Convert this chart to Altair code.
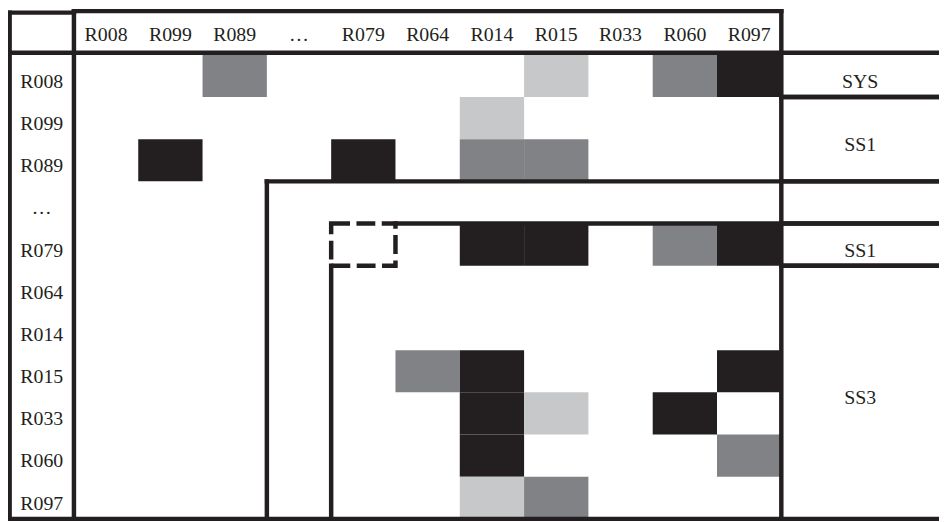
import altair as alt
import pandas as pd

# ---------------- data ----------------
rows = ["R008", "R099", "R089", "…", "R079", "R064", "R014", "R015", "R033", "R060", "R097"]
cols = ["R008", "R099", "R089", "…", "R079", "R064", "R014", "R015", "R033", "R060", "R097"]

cell_rows = ["R008", "R008", "R008", "R008",
             "R099",
             "R089", "R089", "R089", "R089",
             "R079", "R079", "R079", "R079",
             "R015", "R015", "R015",
             "R033", "R033", "R033",
             "R060", "R060",
             "R097", "R097"]
cell_cols = ["R089", "R015", "R060", "R097",
             "R014",
             "R099", "R079", "R014", "R015",
             "R014", "R015", "R060", "R097",
             "R064", "R014", "R097",
             "R014", "R015", "R060",
             "R014", "R097",
             "R014", "R015"]
cell_levels = ["medium", "weak", "medium", "strong",
               "weak",
               "strong", "strong", "medium", "medium",
               "strong", "strong", "medium", "strong",
               "medium", "strong", "strong",
               "strong", "weak", "strong",
               "strong", "medium",
               "weak", "medium"]
level_names = ["strong", "medium", "weak"]
level_colors = ["#231f20", "#808285", "#c7c8ca"]

group_labels = ["SYS", "SS1", "SS1", "SS3"]
group_first = ["R008", "R099", "R079", "R064"]
group_last = ["R008", "R089", "R079", "R097"]

nested_from = ["…", "R079"]     # nested blocks opening at these elements
dashed_cells = ["R079"]         # highlighted diagonal cell

# ---------------- tables ----------------
n = len(rows)
X_MIN, X_MAX = -1.0253, 13.452
Y_MIN, Y_MAX = -1.0576, 11.022
INK = "#231f20"
FONT = "Liberation Serif"

cells = pd.DataFrame({"r": cell_rows, "c": cell_cols, "level": cell_levels})
cells["ri"] = cells["r"].map(rows.index)
cells["ci"] = cells["c"].map(cols.index)
cells["ri2"] = cells["ri"] + 1
cells["ci2"] = cells["ci"] + 1

row_lab = pd.DataFrame({"label": rows, "x": -0.5, "y": [i + 0.5 for i in range(n)]})
col_lab = pd.DataFrame({"label": cols, "x": [i + 0.5 for i in range(n)], "y": -0.5})
grp = pd.DataFrame({
    "label": group_labels,
    "x": (n + X_MAX) / 2,
    "y": [(rows.index(f) + rows.index(l) + 1) / 2 for f, l in zip(group_first, group_last)],
})

segs = []
def seg(x1, x2, y1, y2):
    segs.append({"x": x1, "x2": x2, "y": y1, "y2": y2})

top_box = -1.035
seg(-1, -1, -1, n)
seg(-1, 0, -1, -1)
seg(0, 0, top_box, n)
seg(n, n, top_box, n)
seg(0, n, top_box, top_box)
seg(X_MIN, X_MAX, -0.05, -0.05)
seg(X_MIN, X_MAX, n, n)
for name in nested_from:
    s = rows.index(name)
    off = 1 if name in dashed_cells else 0
    seg(s + off, X_MAX, s, s)
    seg(s, s, s + off, n)
for f, l in zip(group_first, group_last):
    for b in (rows.index(f), rows.index(l) + 1):
        if 0 < b < n:
            seg(n, X_MAX, b, b)
lines = pd.DataFrame(segs)

dash = pd.DataFrame({"i": [rows.index(d) for d in dashed_cells]})
dash["i2"] = dash["i"] + 1

xs = alt.Scale(domain=[X_MIN, X_MAX], nice=False, zero=False)
ys = alt.Scale(domain=[Y_MIN, Y_MAX], nice=False, zero=False, reverse=True)

cell_layer = alt.Chart(cells).mark_rect(strokeWidth=0).encode(
    x=alt.X("ci:Q", scale=xs, axis=None),
    x2="ci2:Q",
    y=alt.Y("ri:Q", scale=ys, axis=None),
    y2="ri2:Q",
    color=alt.Color("level:N", scale=alt.Scale(domain=level_names, range=level_colors), legend=None),
)

line_layer = alt.Chart(lines).mark_rule(strokeWidth=4.5, color=INK, strokeCap="square").encode(
    x=alt.X("x:Q", scale=xs, axis=None),
    x2="x2:Q",
    y=alt.Y("y:Q", scale=ys, axis=None),
    y2="y2:Q",
)

dash_layer = alt.Chart(dash).mark_rect(
    fillOpacity=0, stroke=INK, strokeWidth=4.5, strokeDash=[19, 6.5]
).encode(
    x=alt.X("i:Q", scale=xs, axis=None),
    x2="i2:Q",
    y=alt.Y("i:Q", scale=ys, axis=None),
    y2="i2:Q",
)

def text_layer(df, dy):
    return alt.Chart(df).mark_text(
        font=FONT, fontSize=20, color=INK, align="center", baseline="middle", dy=dy
    ).encode(
        x=alt.X("x:Q", scale=xs, axis=None),
        y=alt.Y("y:Q", scale=ys, axis=None),
        text="label:N",
    )

chart = alt.layer(
    cell_layer,
    line_layer,
    dash_layer,
    text_layer(row_lab, 6),
    text_layer(col_lab, 1),
    text_layer(grp, 6),
).properties(
    width=939, height=514, padding=0, autosize="none", background="white"
).configure_view(stroke=None)

chart.save("out.html", embed_options={"renderer": "svg", "actions": False})
